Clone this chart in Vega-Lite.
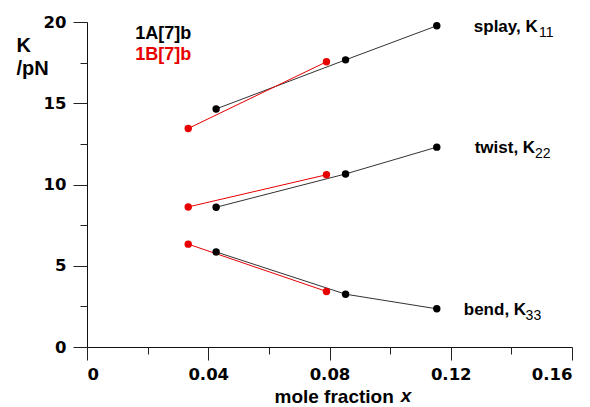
{
  "$schema": "https://vega.github.io/schema/vega-lite/v6.json",
  "width": 485,
  "height": 325,
  "autosize": {"type": "none"},
  "padding": {"left": 87, "top": 22, "right": 18, "bottom": 60},
  "background": "white",
  "config": {
    "view": {"stroke": null},
    "font": "Liberation Sans"
  },
  "datasets": {
    "pts": [
      {"series": "1A", "mode": "splay", "x": 0.0426, "k": 14.65},
      {"series": "1A", "mode": "splay", "x": 0.0853, "k": 17.67},
      {"series": "1A", "mode": "splay", "x": 0.1154, "k": 19.77},
      {"series": "1A", "mode": "twist", "x": 0.0426, "k": 8.6},
      {"series": "1A", "mode": "twist", "x": 0.0853, "k": 10.65},
      {"series": "1A", "mode": "twist", "x": 0.1154, "k": 12.3},
      {"series": "1A", "mode": "bend", "x": 0.0426, "k": 5.85},
      {"series": "1A", "mode": "bend", "x": 0.0853, "k": 3.25},
      {"series": "1A", "mode": "bend", "x": 0.1154, "k": 2.35},
      {"series": "1B", "mode": "splay", "x": 0.0334, "k": 13.45},
      {"series": "1B", "mode": "splay", "x": 0.079, "k": 17.55},
      {"series": "1B", "mode": "twist", "x": 0.0334, "k": 8.62},
      {"series": "1B", "mode": "twist", "x": 0.079, "k": 10.6},
      {"series": "1B", "mode": "bend", "x": 0.0334, "k": 6.33},
      {"series": "1B", "mode": "bend", "x": 0.079, "k": 3.42}
    ],
    "labels": [
      {"text": "splay, K", "x": 0.1276, "k": 19.7, "sub": "11", "sx": 0.1491},
      {"text": "twist, K", "x": 0.1279, "k": 12.25, "sub": "22", "sx": 0.1478},
      {"text": "bend, K", "x": 0.1243, "k": 2.28, "sub": "33", "sx": 0.1447}
    ],
    "legend": [
      {"text": "1A[7]b", "series": "1A", "x": 0.0159, "k": 19.25},
      {"text": "1B[7]b", "series": "1B", "x": 0.0159, "k": 18.0}
    ],
    "xtitle": [{"text": "x", "x": 0.1035, "k": -3.4}]
  },
  "layer": [
    {
      "data": {"name": "pts"},
      "mark": {"type": "line", "strokeWidth": 1},
      "encoding": {
        "x": {
          "field": "x", "type": "quantitative",
          "scale": {"domain": [0, 0.16], "nice": false, "zero": false},
          "axis": {
            "orient": "bottom",
            "values": [0, 0.04, 0.08, 0.12, 0.16],
            "format": "~g",
            "tickSize": 13, "tickColor": "#222", "domainColor": "#111",
            "labelFont": "DejaVu Sans", "labelFontSize": 16.5, "labelFontWeight": "bold", "labelColor": "#000",
            "labelPadding": 6, "grid": false,
            "title": "mole fraction",
            "titleFont": "Liberation Sans", "titleFontSize": 19, "titleFontWeight": "bold", "titleColor": "#000",
            "titleAlign": "left", "titleBaseline": "alphabetic", "titleX": 187, "titleY": 55
          }
        },
        "y": {
          "field": "k", "type": "quantitative",
          "scale": {"domain": [0, 20], "nice": false},
          "axis": {
            "orient": "left",
            "values": [0, 5, 10, 15, 20],
            "tickSize": 14, "tickColor": "#222", "domainColor": "#111",
            "labelFont": "DejaVu Sans", "labelFontSize": 16.5, "labelFontWeight": "bold", "labelColor": "#000",
            "labelPadding": 7, "grid": false,
            "title": ["K", "/pN"],
            "titleFont": "Liberation Sans", "titleFontSize": 20, "titleFontWeight": "bold", "titleColor": "#000",
            "titleAngle": 0, "titleAlign": "left", "titleBaseline": "alphabetic",
            "titleX": -71, "titleY": 29, "titleLineHeight": 23
          }
        },
        "color": {
          "field": "series", "type": "nominal",
          "scale": {"domain": ["1A", "1B"], "range": ["#333333", "#e80000"]},
          "legend": null
        },
        "detail": {"field": "mode"}
      }
    },
    {
      "data": {"name": "pts"},
      "mark": {"type": "point", "filled": true, "shape": "circle", "size": 55, "opacity": 1},
      "encoding": {
        "x": {
          "field": "x", "type": "quantitative",
          "axis": {
            "orient": "bottom",
            "values": [0.02, 0.06, 0.1, 0.14],
            "tickSize": 7, "tickColor": "#222", "labels": false, "domain": false,
            "grid": false, "title": null
          }
        },
        "y": {
          "field": "k", "type": "quantitative",
          "axis": {
            "orient": "left",
            "values": [2.5, 7.5, 12.5, 17.5],
            "tickSize": 7, "tickColor": "#222", "labels": false, "domain": false,
            "grid": false, "title": null
          }
        },
        "color": {
          "field": "series", "type": "nominal",
          "scale": {"domain": ["1A", "1B"], "range": ["#000000", "#e80000"]},
          "legend": null
        }
      }
    },
    {
      "data": {"name": "labels"},
      "mark": {"type": "text", "align": "left", "baseline": "middle", "font": "Liberation Sans", "fontSize": 17, "fontWeight": "bold", "color": "#000"},
      "encoding": {
        "x": {"field": "x", "type": "quantitative", "axis": null},
        "y": {"field": "k", "type": "quantitative", "axis": null},
        "text": {"field": "text"}
      }
    },
    {
      "data": {"name": "labels"},
      "mark": {"type": "text", "align": "left", "baseline": "middle", "dy": 6, "font": "Liberation Sans", "fontSize": 14, "color": "#000"},
      "encoding": {
        "x": {"field": "sx", "type": "quantitative", "axis": null},
        "y": {"field": "k", "type": "quantitative", "axis": null},
        "text": {"field": "sub"}
      }
    },
    {
      "data": {"name": "legend"},
      "mark": {"type": "text", "align": "left", "baseline": "middle", "font": "Liberation Sans", "fontSize": 18, "fontWeight": "bold"},
      "encoding": {
        "x": {"field": "x", "type": "quantitative", "axis": null},
        "y": {"field": "k", "type": "quantitative", "axis": null},
        "text": {"field": "text"},
        "color": {
          "field": "series", "type": "nominal",
          "scale": {"domain": ["1A", "1B"], "range": ["#000000", "#e80000"]},
          "legend": null
        }
      }
    },
    {
      "data": {"name": "xtitle"},
      "mark": {"type": "text", "align": "left", "baseline": "alphabetic", "font": "Liberation Sans", "fontSize": 19, "fontWeight": "bold", "fontStyle": "italic", "color": "#000"},
      "encoding": {
        "x": {"field": "x", "type": "quantitative", "axis": null},
        "y": {"field": "k", "type": "quantitative", "axis": null},
        "text": {"field": "text"}
      }
    }
  ],
  "resolve": {"axis": {"x": "independent", "y": "independent"}, "scale": {"color": "independent"}}
}
